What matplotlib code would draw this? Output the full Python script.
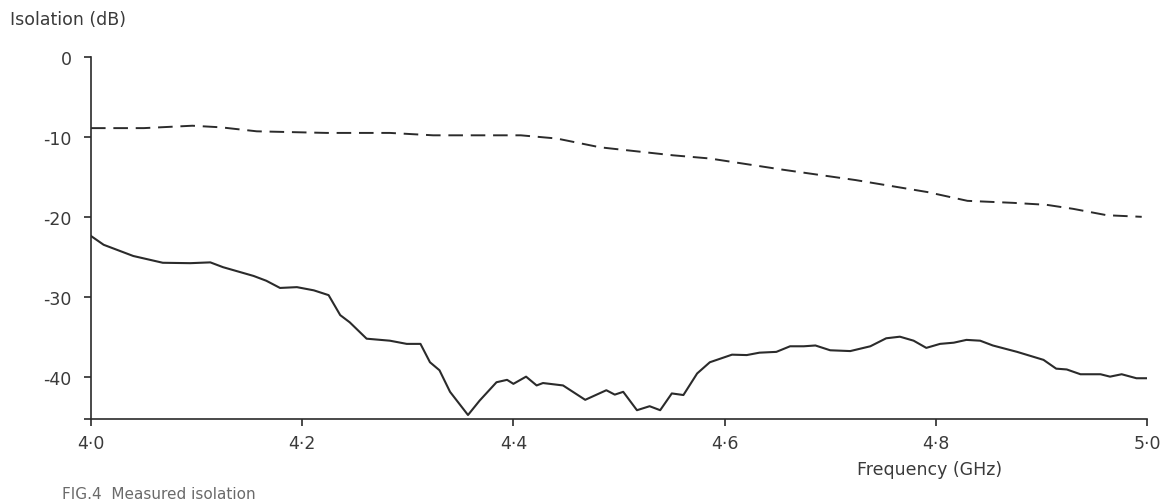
import matplotlib
matplotlib.use("Agg")
import matplotlib.pyplot as plt
from matplotlib.ticker import FixedLocator

# ---- data ----
freq_solid = [4.000, 4.012, 4.040, 4.068, 4.094, 4.113, 4.125, 4.154, 4.166, 4.179,
              4.195, 4.211, 4.225, 4.236, 4.245, 4.261, 4.283, 4.299, 4.312, 4.321,
              4.330, 4.340, 4.357, 4.368, 4.384, 4.394, 4.400, 4.412, 4.422, 4.428,
              4.447, 4.468, 4.488, 4.496, 4.504, 4.517, 4.529, 4.539, 4.550, 4.561,
              4.574, 4.586, 4.607, 4.621, 4.633, 4.649, 4.662, 4.675, 4.686, 4.700,
              4.719, 4.738, 4.753, 4.766, 4.779, 4.791, 4.804, 4.817, 4.829, 4.842,
              4.854, 4.877, 4.902, 4.914, 4.924, 4.937, 4.956, 4.965, 4.976, 4.990,
              5.000]
iso_solid = [-22.4, -23.5, -24.9, -25.75, -25.8, -25.7, -26.3, -27.4, -28.0, -28.9,
             -28.8, -29.2, -29.8, -32.3, -33.2, -35.25, -35.5, -35.9, -35.9, -38.2,
             -39.2, -41.9, -44.8, -43.0, -40.7, -40.4, -40.9, -40.0, -41.1, -40.8,
             -41.1, -42.9, -41.7, -42.25, -41.9, -44.2, -43.7, -44.2, -42.1, -42.3,
             -39.6, -38.2, -37.25, -37.3, -37.0, -36.9, -36.2, -36.2, -36.1, -36.7,
             -36.8, -36.2, -35.2, -35.0, -35.5, -36.4, -35.9, -35.75, -35.4, -35.5,
             -36.1, -36.9, -37.9, -39.0, -39.1, -39.7, -39.7, -40.0, -39.7, -40.2,
             -40.2]

freq_dash = [4.000, 4.050, 4.096, 4.123, 4.157, 4.223, 4.283, 4.324, 4.407, 4.441,
             4.482, 4.551, 4.586, 4.655, 4.724, 4.792, 4.830, 4.873, 4.905, 4.930,
             4.946, 4.962, 4.995]
iso_dash = [-8.9, -8.9, -8.6, -8.8, -9.3, -9.5, -9.5, -9.8, -9.8, -10.2,
            -11.3, -12.3, -12.7, -14.1, -15.4, -16.9, -18.0, -18.25, -18.5, -19.0,
            -19.4, -19.8, -20.0]

x_ticks = [4.0, 4.2, 4.4, 4.6, 4.8, 5.0]
x_ticklabels = ["4·0", "4·2", "4·4", "4·6", "4·8", "5·0"]
y_ticks = [0, -10, -20, -30, -40]
y_ticklabels = ["0", "-10", "-20", "-30", "-40"]

ink = "#2b2b2b"
txt = "#3a3a3a"

fig = plt.figure(figsize=(11.72, 5.02), dpi=100)
ax = fig.add_axes([91 / 1172, 1 - 420 / 502, (1147 - 91) / 1172, (420 - 58) / 502])

ax.plot(freq_solid, iso_solid, color=ink, lw=1.5, solid_joinstyle="round")
ax.plot(freq_dash, iso_dash, color=ink, lw=1.4, dashes=(7.5, 4.0))

ax.set_xlim(4.0, 5.0)
ax.set_ylim(-45.3, 0)

for s in ("top", "right"):
    ax.spines[s].set_visible(False)
for s in ("left", "bottom"):
    ax.spines[s].set_color(ink)
    ax.spines[s].set_linewidth(1.2)

ax.set_xticks(x_ticks)
ax.set_xticklabels(x_ticklabels)
ax.set_yticks(y_ticks)
ax.set_yticklabels(y_ticklabels)
ax.yaxis.set_minor_locator(FixedLocator([-45.3]))
ax.tick_params(axis="both", which="major", direction="out", length=5, width=1.2,
               color=ink, labelcolor=txt, labelsize=12.5)
ax.tick_params(axis="x", pad=6)
ax.tick_params(axis="y", pad=9)
ax.tick_params(axis="y", which="minor", direction="out", length=5, width=1.2, color=ink)

fig.text(10 / 1172, 1 - 20 / 502, "Isolation (dB)", fontsize=12.5, color=txt,
         ha="left", va="center")
fig.text(857 / 1172, 1 - 470 / 502, "Frequency (GHz)", fontsize=12.5, color=txt,
         ha="left", va="center")
fig.text(62 / 1172, 1 - 487 / 502, "FIG.4  Measured isolation", fontsize=11,
         color="#6a6a6a", ha="left", va="top")

fig.savefig("out.png", dpi=100, facecolor="white")
